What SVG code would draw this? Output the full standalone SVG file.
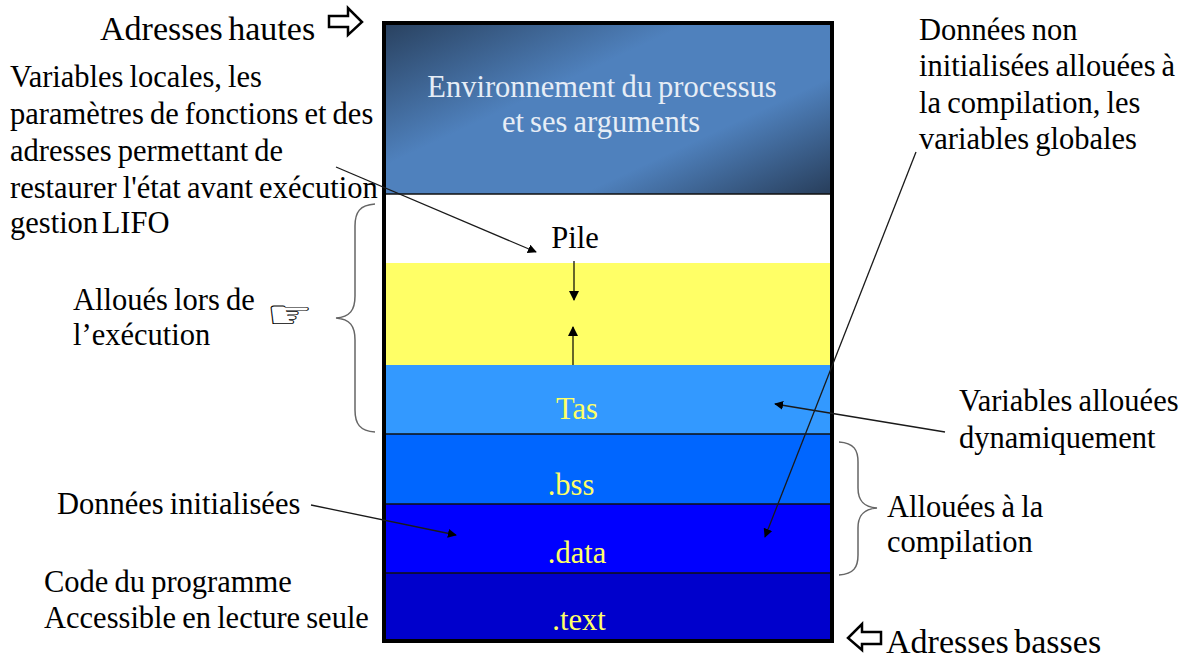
<svg xmlns="http://www.w3.org/2000/svg" width="1186" height="659" viewBox="0 0 1186 659">
<style>
text{font-family:"Liberation Serif","Times New Roman",serif;font-size:30.5px;word-spacing:-1.5px;fill:#000}
.m{text-anchor:middle}
.h{font-size:34px;word-spacing:-3px}
.w{fill:#e6edf6}
.c{fill:none;stroke:#1a1a1a;stroke-width:1.3}
.b{fill:none;stroke:#666;stroke-width:1.5}
.s{fill:none;stroke:#000;stroke-width:1.2}
.y{fill:#ffff66}
</style>
<defs>
<linearGradient id="env" gradientUnits="userSpaceOnUse" x1="383" y1="24" x2="527" y2="332">
<stop offset="0" stop-color="#29415f"/><stop offset="0.38" stop-color="#4f81bd"/><stop offset="0.7" stop-color="#4f81bd"/><stop offset="1" stop-color="#29405e"/>
</linearGradient>
<marker id="a" viewBox="0 0 10 10" refX="9" refY="5" markerWidth="9" markerHeight="9" markerUnits="userSpaceOnUse" orient="auto"><path d="M0 0L10 5L0 10Z" fill="#000"/></marker>
<marker id="l" viewBox="0 0 10 10" refX="9" refY="5" markerWidth="10" markerHeight="10" markerUnits="userSpaceOnUse" orient="auto"><path d="M0 0L10 5L0 10Z" fill="#000"/></marker>
</defs>
<rect width="1186" height="659" fill="#fff"/>
<g id="memory">
<rect id="zone-env" x="383" y="24" width="450" height="170" fill="url(#env)"/>
<rect id="zone-pile" x="383" y="194" width="450" height="69" fill="#fff"/>
<rect id="zone-libre" x="383" y="263" width="450" height="102" fill="#ffff66"/>
<rect id="zone-tas" x="383" y="365" width="450" height="69" fill="#3399ff"/>
<rect id="zone-bss" x="383" y="434" width="450" height="70" fill="#0066ff"/>
<rect id="zone-data" x="383" y="504" width="450" height="69" fill="#0000ff"/>
<rect id="zone-text" x="383" y="573" width="450" height="67" fill="#0000cc"/>
<path d="M383 194H833M383 434H833M383 504H833M383 573H833" fill="none" stroke="#111" stroke-width="1.3"/>
<rect x="384" y="23" width="448" height="618" fill="none" stroke="#000" stroke-width="4"/>
<text class="m w" x="602" y="97">Environnement du processus</text>
<text class="m w" x="601" y="132">et ses arguments</text>
<text class="m" x="575" y="248">Pile</text>
<text class="m y" x="577" y="419">Tas</text>
<text class="m y" x="571" y="495">.bss</text>
<text class="m y" x="577" y="563">.data</text>
<text class="m y" x="579" y="630">.text</text>
</g>
<g id="labels">
<text class="h" x="100" y="40">Adresses hautes</text>
<text x="10" y="87">Variables locales, les</text>
<text x="10" y="124">paramètres de fonctions et des</text>
<text x="10" y="161">adresses permettant de</text>
<text x="10" y="198">restaurer l'état avant exécution</text>
<text x="10" y="233" style="word-spacing:-4px">gestion LIFO</text>
<text x="73" y="310">Alloués lors de</text>
<text x="73" y="345">l’exécution</text>
<text x="57" y="514">Données initialisées</text>
<text x="44" y="592">Code du programme</text>
<text x="44" y="628">Accessible en lecture seule</text>
<text x="919" y="40">Données non</text>
<text x="919" y="76">initialisées allouées à</text>
<text x="919" y="113">la compilation, les</text>
<text x="919" y="149">variables globales</text>
<text x="959" y="411">Variables allouées</text>
<text x="959" y="448">dynamiquement</text>
<text x="887" y="517">Allouées à la</text>
<text x="887" y="552">compilation</text>
<text class="h" x="886" y="653">Adresses basses</text>
<text transform="translate(266 328) scale(1.4 1.05)" style="font-family:'DejaVu Sans',sans-serif;font-size:38px">☞</text>
</g>
<g id="connectors">
<path class="c" marker-end="url(#a)" d="M336 167L536 252"/>
<path class="c" marker-end="url(#a)" d="M311 505L456 535"/>
<path class="c" marker-end="url(#a)" d="M945 432L775 404"/>
<path class="c" marker-end="url(#a)" d="M916 152L765 537"/>
<path class="s" marker-end="url(#l)" d="M574 261V300"/>
<path class="s" marker-end="url(#l)" d="M573 365V327"/>
<path class="b" d="M375 204C360 205 355 212 355 226V296C355 310 350 317 336 318C350 319 355 326 355 340V410C355 424 360 431 375 432"/>
<path class="b" d="M839 442C854 443 858 450 858 462V488C858 500 863 507 877 508C863 509 858 516 858 528V555C858 567 854 574 839 575"/>
<polygon points="329,16 348,16 348,8 362,22 348,35 348,27 329,27" fill="#fff" stroke="#000" stroke-width="2.5"/>
<polygon points="881,632 862,632 862,624 848,638 862,650 862,644 881,644" fill="#fff" stroke="#000" stroke-width="2.5"/>
</g>
</svg>
